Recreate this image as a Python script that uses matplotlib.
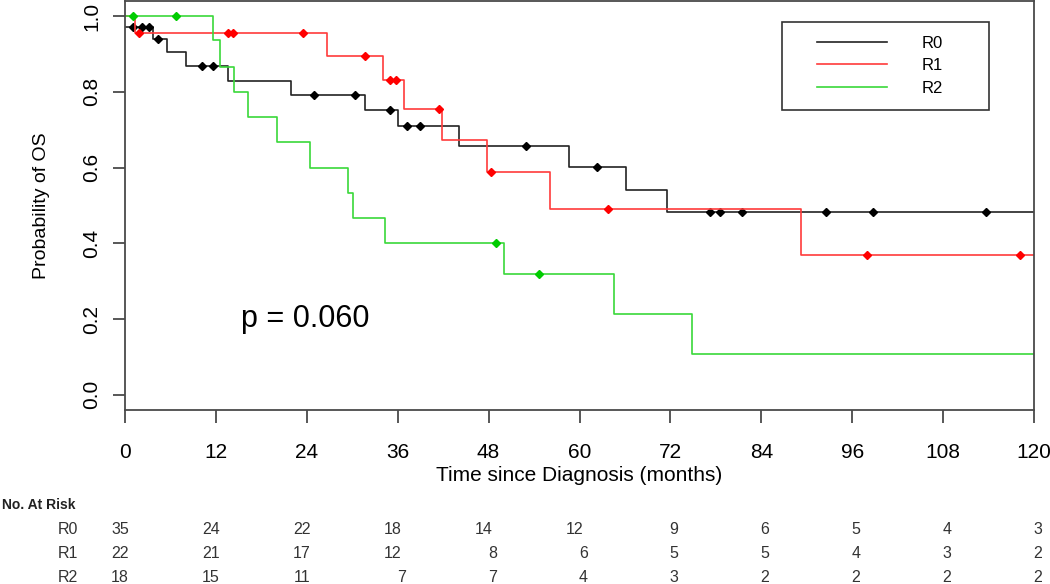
import numpy as np
import matplotlib
matplotlib.use("Agg")
import matplotlib.pyplot as plt
from matplotlib.transforms import blended_transform_factory
from matplotlib.legend_handler import HandlerLine2D

plt.rcParams['font.family'] = ['Liberation Sans', 'DejaVu Sans']

# Kaplan-Meier steps (time in months, survival)
r0_times = [0, 3.65, 5.6, 8.0, 13.6, 21.9, 31.7, 36.0, 44.1, 58.6, 66.2, 71.5]
r0_surv = [0.971, 0.940, 0.905, 0.868, 0.829, 0.791, 0.752, 0.709, 0.656, 0.602, 0.542, 0.482]
r0_censor = [1.0, 2.3, 3.2, 4.4, 10.2, 11.65, 24.9, 30.4, 35.0, 37.2, 38.9, 52.9,
             62.3, 77.2, 78.5, 81.5, 92.6, 98.7, 113.6]

r1_times = [0, 1.3, 26.7, 34.0, 36.8, 41.8, 47.8, 56.1, 89.2]
r1_surv = [1.0, 0.955, 0.896, 0.832, 0.755, 0.673, 0.589, 0.491, 0.368]
r1_censor = [1.85, 13.55, 14.3, 23.5, 31.7, 35.0, 35.8, 41.4, 48.3, 63.8, 98.0, 118.2]

r2_times = [0, 11.6, 12.5, 14.4, 16.2, 20.0, 24.4, 29.5, 30.1, 34.3, 50.0, 64.6, 74.8]
r2_surv = [1.0, 0.9375, 0.867, 0.800, 0.733, 0.667, 0.600, 0.533, 0.467, 0.400, 0.320, 0.213, 0.107]
r2_censor = [1.0, 6.7, 49.0, 54.7]

groups = ['R0', 'R1', 'R2']
risk_times = [0, 12, 24, 36, 48, 60, 72, 84, 96, 108, 120]
risk_r0 = [35, 24, 22, 18, 14, 12, 9, 6, 5, 4, 3]
risk_r1 = [22, 21, 17, 12, 8, 6, 5, 5, 4, 3, 2]
risk_r2 = [18, 15, 11, 7, 7, 4, 3, 2, 2, 2, 2]

t_max = 120
line_colors = ['#222222', '#ff3b3b', '#3ad83a']
mark_colors = ['black', '#ff0000', '#00cc00']
axis_col = '#4a4a4a'

fig = plt.figure(figsize=(10.5, 5.84), dpi=100)
ax = fig.add_axes([125 / 1050, 1 - 410 / 584, 909 / 1050, 409 / 584])

curves = [(r0_times, r0_surv, r0_censor),
          (r1_times, r1_surv, r1_censor),
          (r2_times, r2_surv, r2_censor)]

handles = []
for (times, surv, cens), lc, mc, name in zip(curves, line_colors, mark_colors, groups):
    t = np.append(times, t_max)
    s = np.append(surv, surv[-1])
    h, = ax.step(t, s, where='post', color=lc, lw=1.2, label=name)
    handles.append(h)
    idx = np.searchsorted(times, cens, side='right') - 1
    ax.plot(cens, np.array(surv)[idx], ls='none', marker='D', ms=4.2,
            color=mc, mec=mc)

ax.set_xlim(0, t_max)
ax.set_ylim(-0.04, 1.04)
ax.set_xticks(risk_times)
ax.set_yticks(np.arange(0, 1.01, 0.2))
ax.set_yticklabels([f"{v:.1f}" for v in np.arange(0, 1.01, 0.2)], rotation=90, va='center')
ax.tick_params(axis='x', length=9, width=1.3, color=axis_col, labelsize=15, pad=15)
ax.tick_params(axis='y', length=9, width=1.3, color=axis_col, labelsize=15, pad=8)
for sp in ax.spines.values():
    sp.set_color(axis_col)
    sp.set_linewidth(1.3)

ax.set_xlabel("Time since Diagnosis (months)", fontsize=15)
ax.xaxis.set_label_coords(0.5, -0.136)
ax.set_ylabel("Probability of OS", fontsize=14)
ax.yaxis.set_label_coords(-75 / 909, 0.5)

ax.text(15.3, 0.2, "p = 0.060", fontsize=22, ha='left', va='center')

fs_leg = 12
leg = ax.legend(handles=handles, loc='upper left', mode='expand',
                bbox_to_anchor=(657 / 909, 0.7335, 207 / 909, 0.2152),
                borderaxespad=0, fontsize=fs_leg, fancybox=False,
                edgecolor='#333333', framealpha=1, borderpad=0.82,
                labelspacing=0.46, handlelength=5.48, handletextpad=2.1,
                handler_map={h: HandlerLine2D(xpad=1.28) for h in handles})
leg.get_frame().set_linewidth(1.2)

# number at risk table below the axis
tr = blended_transform_factory(ax.transData, fig.transFigure)
fig.text(2 / 1050, 1 - 505 / 584, "No. At Risk", fontsize=10, fontweight='bold',
         ha='left', va='center', color='#222222')
row_y = [529, 554, 578]
for name, counts, yp in zip(groups, [risk_r0, risk_r1, risk_r2], row_y):
    fig.text(78 / 1050, 1 - yp / 584, name, fontsize=11.5, ha='right', va='center',
             color='#333333')
    for tx, n in zip(risk_times, counts):
        ax.text(tx + 0.5, 1 - yp / 584, str(n), transform=tr, fontsize=11.5,
                ha='right' if n >= 10 else 'center', va='center', color='#333333',
                clip_on=False)

fig.savefig("out.png", dpi=100)
